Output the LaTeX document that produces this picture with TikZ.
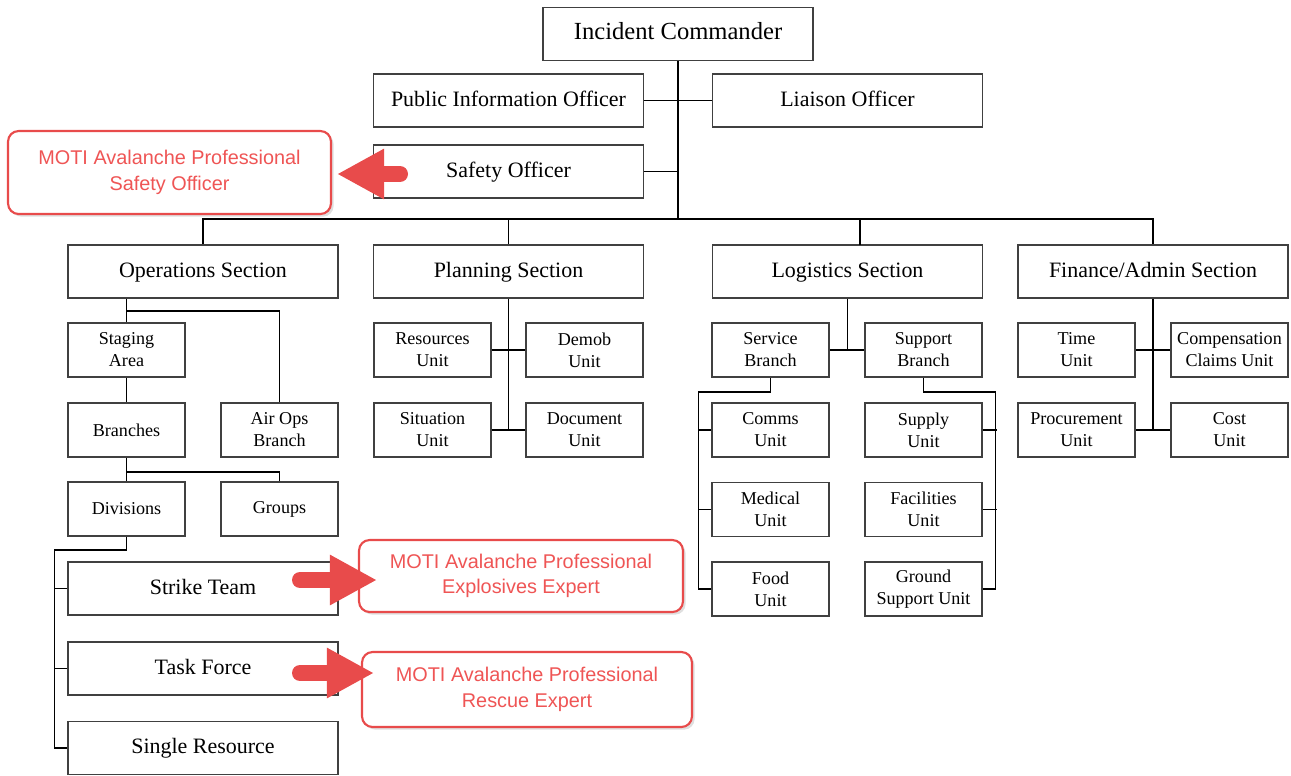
\documentclass[tikz,border=0pt]{standalone}
\usepackage{fontspec}
\setmainfont{Liberation Serif}
\newfontfamily\notefont{Liberation Sans}
\usetikzlibrary{arrows.meta,shadows,positioning}
\definecolor{mred}{HTML}{E84B4B}
\definecolor{mtext}{HTML}{EF5555}
\tikzstyle{box}=[draw=black!75, line width=0.9pt, minimum width=5.4cm, minimum height=1.06cm, inner sep=1pt, text height=1.6ex, text depth=0.2ex, font=\fontsize{12.5}{14}\selectfont]
\tikzstyle{unit}=[draw=black!75, line width=0.9pt, minimum width=2.34cm, minimum height=1.08cm, inner sep=1pt, align=center, font=\fontsize{10.3}{12.5}\selectfont]
\tikzstyle{note}=[draw=mred, line width=1.2pt, rounded corners=6pt, fill=white, text=mtext, align=center, font=\notefont\fontsize{11.3}{14.5}\selectfont, drop shadow={opacity=0.25, shadow xshift=1.5pt, shadow yshift=-1.5pt}]
\tikzstyle{l1}=[line width=0.9pt]
\tikzstyle{bigarrow}=[mred, line width=0.32cm, line cap=round, -{Triangle[length=0.94cm, width=0.94cm]}]

\begin{document}
\begin{tikzpicture}[x=0.02cm, y=-0.02cm]
    \useasboundingbox (0,0) rectangle (1291,775);
    % command staff
    \node[box, font=\fontsize{14}{16}\selectfont] (ic) at (678,34) {Incident Commander};
    \node[box] (pio) at (508.5,100.5) {Public Information Officer};
    \node[box] (liaison) at (847.5,100.5) {Liaison Officer};
    \node[box] (safety) at (508.5,171.5) {Safety Officer};
    % sections
    \node[box] (ops) at (203,271.5) {Operations Section};
    \node[box] (plan) at (508.5,271.5) {Planning Section};
    \node[box] (logi) at (847.5,271.5) {Logistics Section};
    \node[box] (fin) at (1153,271.5) {Finance/Admin Section};
    % operations
    \node[unit] (staging) at (126.5,350) {Staging\\Area};
    \node[unit] (branches) at (126.5,430) {Branches};
    \node[unit] (airops) at (279.5,430) {Air Ops\\Branch};
    \node[unit] (divisions) at (126.5,509) {Divisions};
    \node[unit] (groups) at (279.5,509) {Groups};
    \node[box] (strike) at (203,588.5) {Strike Team};
    \node[box] (task) at (203,668.5) {Task Force};
    \node[box] (single) at (203,748) {Single Resource};
    % planning
    \node[unit] (resources) at (432.5,350) {Resources\\Unit};
    \node[unit] (demob) at (584.5,350) {Demob\\Unit};
    \node[unit] (situation) at (432.5,430) {Situation\\Unit};
    \node[unit] (document) at (584.5,430) {Document\\Unit};
    % logistics
    \node[unit] (service) at (770.5,350) {Service\\Branch};
    \node[unit] (support) at (923.5,350) {Support\\Branch};
    \node[unit] (comms) at (770.5,430) {Comms\\Unit};
    \node[unit] (medical) at (770.5,509.5) {Medical\\Unit};
    \node[unit] (food) at (770.5,589) {Food\\Unit};
    \node[unit] (supply) at (923.5,430) {Supply\\Unit};
    \node[unit] (facilities) at (923.5,509.5) {Facilities\\Unit};
    \node[unit] (ground) at (923.5,589) {Ground\\Support Unit};
    % finance
    \node[unit] (time) at (1076.5,350) {Time\\Unit};
    \node[unit] (comp) at (1229.5,350) {Compensation\\Claims Unit};
    \node[unit] (procurement) at (1076.5,430) {Procurement\\Unit};
    \node[unit] (cost) at (1229.5,430) {Cost\\Unit};

    % top of the tree
    \coordinate (bus) at (679,219);
    \coordinate (logdrop) at (860,245);
    \draw[l1] (ic.south) -- (ic.south |- bus);
    \draw[l1] (pio.east) -- (liaison.west);
    \draw[l1] (safety.east) -- (safety.east -| ic.south);
    \draw[l1] (ops.north) -- (ops.north |- bus) -- (fin.north |- bus) -- (fin.north);
    \draw[l1] (plan.north) -- (plan.north |- bus);
    \draw[l1] (logdrop) -- (logdrop |- bus);

    % operations
    \draw[l1] (staging.north |- ops.south) -- (staging.north);
    \draw[l1] (staging.north) ++(0,-11) -| (airops.north);
    \draw[l1] (staging) -- (branches);
    \draw[l1] (branches) -- (divisions);
    \draw[l1] (branches.south) ++(0,14) -| (groups.north);
    \draw[l1] (divisions.south) -- ++(0,13) -- ++(-72,0) |- (single.west);
    \draw[l1] (strike.west) -- ++(-13,0);
    \draw[l1] (task.west) -- ++(-13,0);

    % planning
    \draw[l1] (plan.south) -- (plan.south |- situation.east);
    \draw[l1] (resources) -- (demob);
    \draw[l1] (situation) -- (document);

    % logistics
    \draw[l1] (logi.south) -- (logi.south |- service.east);
    \draw[l1] (service) -- (support);
    \draw[l1] (service.south) -- ++(0,14) -- ++(-72,0) |- (food.west);
    \draw[l1] (comms.west) -- ++(-13,0);
    \draw[l1] (medical.west) -- ++(-13,0);
    \draw[l1] (support.south) -- ++(0,14) -- ++(72,0) |- (ground.east);
    \draw[l1] (supply.east) -- ++(14,0);
    \draw[l1] (facilities.east) -- ++(14,0);

    % finance
    \draw[l1] (fin.south) -- (fin.south |- procurement.east);
    \draw[l1] (time) -- (comp);
    \draw[l1] (procurement) -- (cost);

    % MOTI notes
    \node[note, minimum width=6.46cm, minimum height=1.66cm] (safenote) at (169.5,172.5) {MOTI Avalanche Professional\\Safety Officer};
    \node[note, minimum width=6.48cm, minimum height=1.44cm] (explnote) at (521,576) {MOTI Avalanche Professional\\Explosives Expert};
    \node[note, minimum width=6.6cm, minimum height=1.5cm] (rescnote) at (527,689.5) {MOTI Avalanche Professional\\Rescue Expert};
    \coordinate (safetail) at (400,174);
    \coordinate (striketail) at (300,580);
    \coordinate (tasktail) at (300,673);
    \draw[bigarrow, shorten >=0.1cm] (safetail) -- (safenote.east |- safetail);
    \draw[bigarrow] (striketail) -- ([xshift=0.38cm]explnote.west |- striketail);
    \draw[bigarrow] (tasktail) -- ([xshift=0.26cm]rescnote.west |- tasktail);
\end{tikzpicture}
\end{document}
